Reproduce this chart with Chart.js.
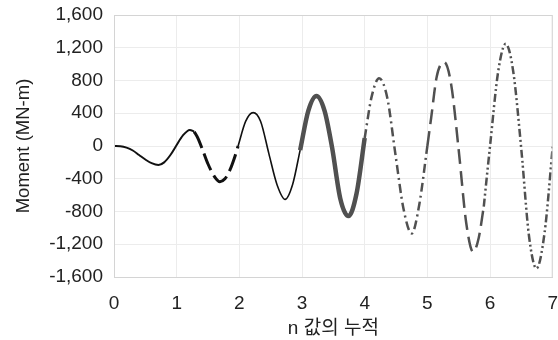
<!DOCTYPE html>
<html>
<head>
<meta charset="utf-8">
<script src="https://cdn.jsdelivr.net/npm/chart.js@4"></script>
<style>
  html, body { margin: 0; padding: 0; background: #fff; }
  #wrap { width: 558px; height: 340px; }
</style>
</head>
<body>
<div id="wrap"><canvas id="chart1"></canvas></div>
<script>
// n 값 / Moment (MN-m) 구간별 데이터
const seg1N = [0, 0.1, 0.2, 0.3, 0.4, 0.5, 0.6, 0.71, 0.8, 0.9, 0.99, 1.1, 1.21, 1.28];
const seg1M = [0, -3, -20, -55, -110, -165, -210, -232, -200, -110, 0, 130, 196, 175];
const seg2N = [1.28, 1.34, 1.42, 1.5, 1.6, 1.69, 1.77, 1.85, 1.92, 1.98];
const seg2M = [175, 94, -60, -220, -370, -436, -400, -293, -150, 0];
const seg3N = [1.98, 2.1, 2.22, 2.34, 2.47, 2.6, 2.73, 2.85, 2.97];
const seg3M = [0, 300, 408, 300, -90, -470, -652, -470, -50];
const seg4N = [2.97, 3.1, 3.23, 3.36, 3.48, 3.61, 3.74, 3.87, 4.0];
const seg4M = [-50, 430, 612, 430, -20, -640, -856, -580, 98];
const seg5N = [4.0, 4.11, 4.23, 4.36, 4.49, 4.62, 4.75, 4.87, 5.0];
const seg5M = [98, 600, 828, 590, -100, -770, -1068, -720, 0];
const seg6N = [5.0, 5.06, 5.15, 5.27, 5.38, 5.5, 5.62, 5.73, 5.82, 5.9];
const seg6M = [0, 340, 850, 1023, 750, -50, -940, -1293, -1120, -740];
const seg7N = [5.9, 6.0, 6.13, 6.25, 6.37, 6.5, 6.62, 6.74, 6.87, 7.0];
const seg7M = [-740, 0, 910, 1248, 910, -50, -1090, -1496, -1060, -8];

const xTicks = [0, 1, 2, 3, 4, 5, 6, 7];
const yTicks = [-1600, -1200, -800, -400, 0, 400, 800, 1200, 1600];

function pts(ns, ms) {
    return ns.map((n, i) => ({ x: n, y: ms[i] }));
}

function seg(ns, ms, color, width, dash) {
    return {
        data: pts(ns, ms),
        borderColor: color,
        borderWidth: width,
        borderDash: dash,
        pointRadius: 0,
        fill: false,
        cubicInterpolationMode: 'monotone',
        borderCapStyle: 'butt'
    };
}

// 플롯 영역 테두리
const frame = {
    id: 'frame',
    afterDraw(chart) {
        const a = chart.chartArea, c = chart.ctx;
        c.save();
        c.strokeStyle = '#d4d4d4';
        c.lineWidth = 1;
        c.strokeRect(a.left + 0.5, a.top + 0.5, a.right - a.left - 1, a.bottom - a.top);
        c.restore();
    }
};

const tickFont = { family: "'Liberation Sans', Arial, sans-serif", size: 19 };

var ctx1 = document.getElementById('chart1').getContext('2d');
var chart1 = new Chart(ctx1, {
    type: 'line',
    data: {
        datasets: [
            seg(seg1N, seg1M, '#111', 2, []),
            seg(seg2N, seg2M, '#111', 3, [18, 6]),
            seg(seg3N, seg3M, '#111', 1.6, []),
            seg(seg4N, seg4M, '#505050', 4.5, []),
            seg(seg5N, seg5M, '#505050', 2.5, [9, 4, 2, 4]),
            seg(seg6N, seg6M, '#505050', 2.5, [15, 7]),
            seg(seg7N, seg7M, '#505050', 2.5, [8, 3, 2, 3, 2, 3])
        ]
    },
    options: {
        responsive: true,
        maintainAspectRatio: false,
        animation: false,
        layout: { padding: { top: 15, right: 5, left: 0, bottom: 0 } },
        plugins: { legend: { display: false }, tooltip: { enabled: false } },
        scales: {
            x: {
                type: 'linear',
                min: 0,
                max: 7,
                afterBuildTicks: s => { s.ticks = xTicks.map(v => ({ value: v })); },
                afterFit: s => { s.height = 63; },
                grid: { color: '#ececec', drawTicks: true, tickLength: 15, tickColor: 'rgba(0,0,0,0)' },
                border: { color: '#d4d4d4' },
                ticks: { color: '#222', font: tickFont, padding: 0 },
                title: {
                    display: true,
                    text: 'n 값의 누적',
                    color: '#222',
                    font: { family: "'Liberation Sans', 'Noto Sans CJK KR', sans-serif", size: 19 },
                    padding: { top: 0, bottom: 0 }
                }
            },
            y: {
                min: -1600,
                max: 1600,
                afterBuildTicks: s => { s.ticks = yTicks.map(v => ({ value: v })); },
                afterFit: s => { s.width = 114; },
                grid: { color: '#ececec', drawTicks: true, tickLength: 11, tickColor: 'rgba(0,0,0,0)' },
                border: { color: '#d4d4d4' },
                ticks: {
                    color: '#222',
                    font: tickFont,
                    padding: 0,
                    callback: v => v.toLocaleString('en-US')
                },
                title: {
                    display: true,
                    text: 'Moment (MN-m)',
                    color: '#222',
                    font: { family: "'Liberation Sans', Arial, sans-serif", size: 18.5 },
                    padding: { top: 13, bottom: 0 }
                }
            }
        }
    },
    plugins: [frame]
});
</script>
</body>
</html>
